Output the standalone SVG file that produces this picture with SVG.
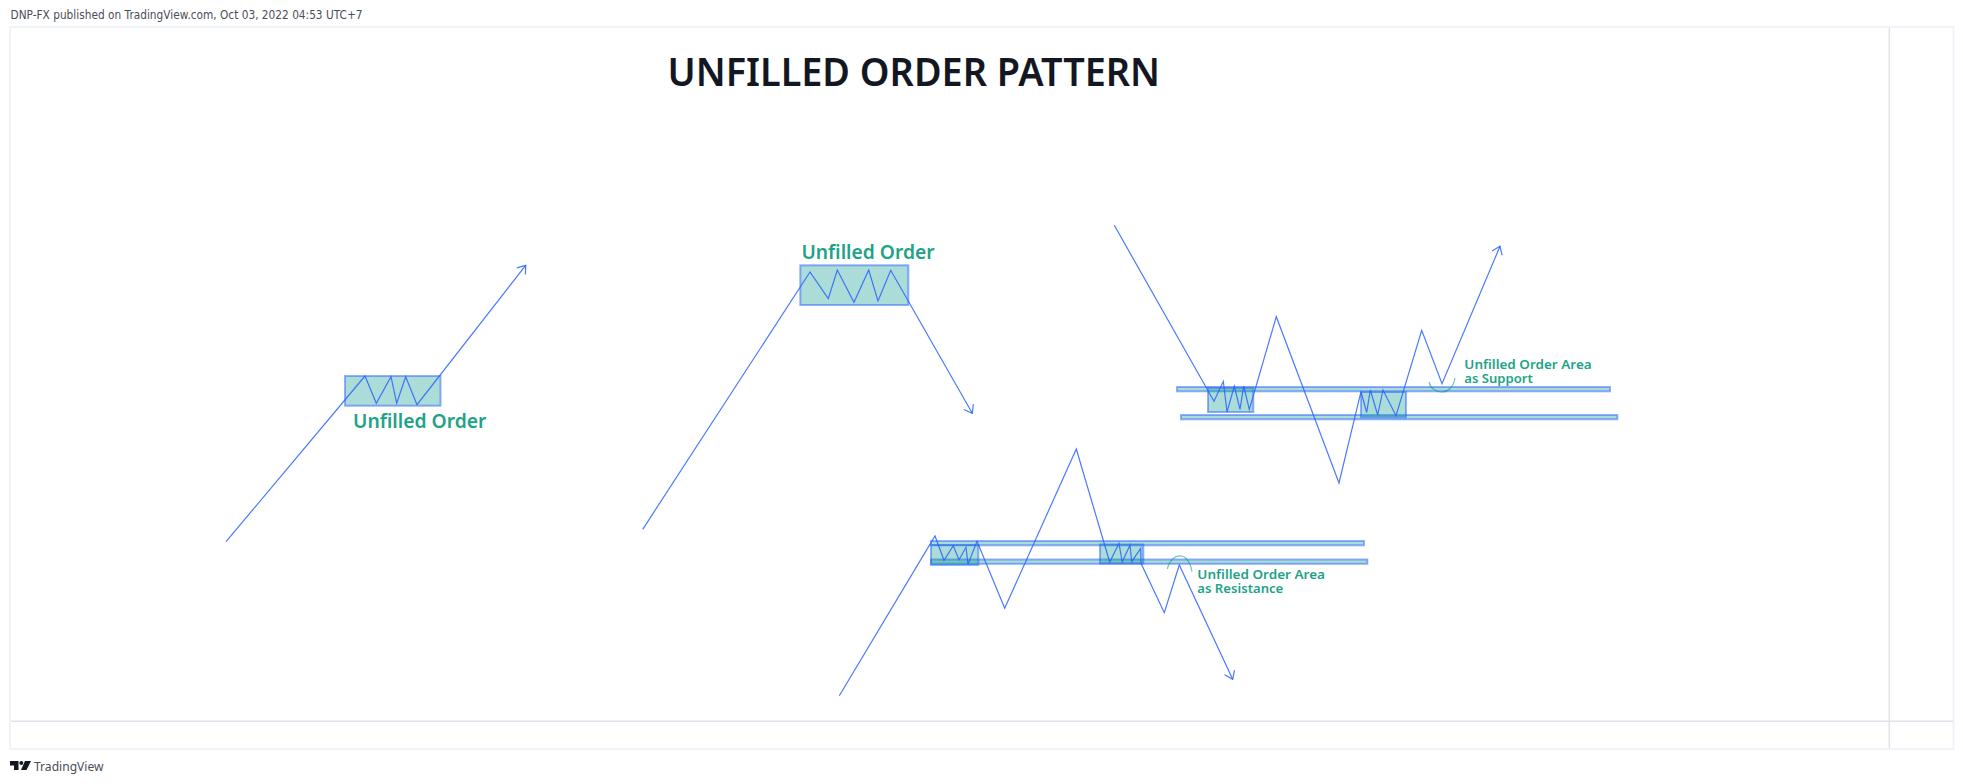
<svg xmlns="http://www.w3.org/2000/svg" width="1963" height="784" viewBox="0 0 1963 784">
<style>
.zone{fill:#009688;fill-opacity:.33;stroke:#2962ff;stroke-opacity:.5;stroke-width:2}
.rail{fill:#009688;fill-opacity:.33;stroke:#2962ff;stroke-opacity:.5;stroke-width:2}
.path{fill:none;stroke:#2962ff;stroke-opacity:.85;stroke-width:1.2;stroke-linejoin:miter}
.arc{fill:none;stroke:#009688;stroke-opacity:.55;stroke-width:1.2}
.frame{fill:none;stroke:#f0f3fa;stroke-width:2}
.grid{stroke:#e0e3eb;stroke-width:1.5}
.big{font:600 19.5px "Noto Sans","DejaVu Sans",sans-serif;fill:#1da386}
.small{font:600 13px "Noto Sans","DejaVu Sans",sans-serif;fill:#1da386}
</style>
<defs>
<marker id="open" markerUnits="userSpaceOnUse" markerWidth="16" markerHeight="16" refX="12" refY="8" orient="auto">
<path d="M4.5 2.5L12 8L4.5 13.5" fill="none" stroke="#2962ff" stroke-opacity=".85" stroke-width="1.2"/>
</marker>
</defs>
<rect width="1963" height="784" fill="#ffffff"/>
<g id="chrome">
<rect class="frame" x="10" y="27" width="1943.5" height="722"/>
<line class="grid" x1="11" y1="721.3" x2="1953" y2="721.3"/>
<line class="grid" x1="1889.3" y1="28" x2="1889.3" y2="748"/>
<text x="10.5" y="19" font-family="'DejaVu Sans',sans-serif" font-size="11.5" fill="#4a4e59" textLength="352" lengthAdjust="spacingAndGlyphs">DNP-FX published on TradingView.com, Oct 03, 2022 04:53 UTC+7</text>
<path d="M10 761H18.5V770H14V765.5H10ZM25 761H31L26.5 770H21Z" fill="#131722"/>
<circle cx="21.3" cy="763" r="2" fill="#131722"/>
<text x="34" y="771" font-family="'Noto Sans',sans-serif" font-size="13" fill="#4a4e59" textLength="69.5" lengthAdjust="spacingAndGlyphs">TradingView</text>
<text x="667.5" y="85.8" font-family="'Noto Sans','DejaVu Sans',sans-serif" font-size="39.5" font-weight="600" fill="#131722" textLength="492.5" lengthAdjust="spacingAndGlyphs">UNFILLED ORDER PATTERN</text>
</g>
<g id="node-continuation">
<rect class="zone" x="345" y="376" width="95.5" height="29.7"/>
<text class="big" x="353" y="427.7" textLength="133.5" lengthAdjust="spacingAndGlyphs">Unfilled Order</text>
</g>
<g id="node-reversal">
<rect class="zone" x="800.3" y="265.3" width="108" height="39.7"/>
<text class="big" x="801.5" y="259" textLength="133" lengthAdjust="spacingAndGlyphs">Unfilled Order</text>
</g>
<g id="node-support">
<rect class="rail" x="1177" y="387" width="433" height="4.3"/>
<rect class="rail" x="1181" y="415" width="436.3" height="4.3"/>
<rect class="zone" x="1208" y="387.7" width="45.3" height="24.3"/>
<rect class="zone" x="1361" y="392" width="45" height="25.3"/>
<path class="arc" d="M1429 382C1432 395 1452 397 1455 378"/>
<text class="small"><tspan x="1464.3" y="368.7" textLength="127.4" lengthAdjust="spacingAndGlyphs">Unfilled Order Area</tspan><tspan x="1464.3" y="382.7" textLength="68.4" lengthAdjust="spacingAndGlyphs">as Support</tspan></text>
</g>
<g id="node-resistance">
<rect class="rail" x="931" y="541" width="433" height="4.3"/>
<rect class="rail" x="931" y="559.5" width="436.3" height="4.3"/>
<rect class="zone" x="931" y="545" width="47.3" height="20"/>
<rect class="zone" x="1100" y="544.5" width="43.3" height="19"/>
<path class="arc" d="M1167.3 569C1172 551 1189 551 1192 571.7"/>
<text class="small"><tspan x="1197.3" y="578.7" textLength="127.7" lengthAdjust="spacingAndGlyphs">Unfilled Order Area</tspan><tspan x="1197.3" y="593" textLength="86" lengthAdjust="spacingAndGlyphs">as Resistance</tspan></text>
</g>
<g id="connectors">
<polyline class="path" marker-end="url(#open)" points="226,541.7 365,376 376.3,403.3 391,376.7 396.7,403.3 405.7,376.7 417,404.7 525.7,265.3"/>
<polyline class="path" marker-end="url(#open)" points="642.7,529.3 810,272 828.3,298.7 837.3,270 854,302.3 868.7,270 878,301 890.7,270.3 972.3,413.3"/>
<polyline class="path" marker-end="url(#open)" points="1114.3,225.3 1214,401.3 1223.3,381.3 1227,412 1234.3,386 1240,409.3 1243.7,386 1249.3,409.3 1276.3,316.7 1339,483 1361,391.7 1366.7,412.5 1370.3,390 1377.7,415 1383,390 1396,415.7 1421.7,330.3 1442,383.7 1500,246.3"/>
<polyline class="path" marker-end="url(#open)" points="839.3,695.7 935,536 944,560.3 953.3,545.7 959,559.7 966,547.3 968,564.3 977,541.3 1004.7,608.3 1076.3,449 1109.7,562 1119,543.5 1122.2,562 1130,545 1131.7,561.7 1140.7,548.3 1141,563.3 1164.3,612.7 1179.3,565 1232.7,679.3"/>
</g>
</svg>
